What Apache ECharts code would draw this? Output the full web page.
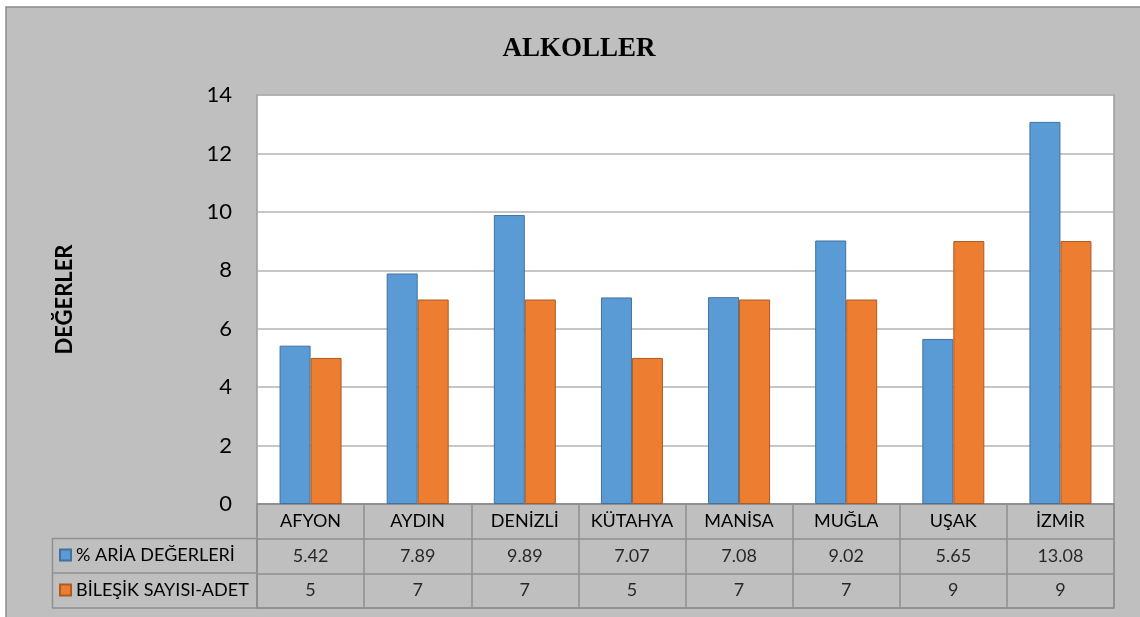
<!DOCTYPE html>
<html>
<head>
<meta charset="utf-8">
<script src="https://cdn.jsdelivr.net/npm/echarts@6/dist/echarts.min.js"></script>
<style>
  html, body { margin: 0; padding: 0; background: #ffffff; }
  #chart { width: 1140px; height: 617px; }
</style>
</head>
<body>
<div id="chart"></div>
<script>
// Provinces and the two measured series
const provinces = ['AFYON', 'AYDIN', 'DENİZLİ', 'KÜTAHYA', 'MANİSA', 'MUĞLA', 'UŞAK', 'İZMİR'];
const ariaValues = [5.42, 7.89, 9.89, 7.07, 7.08, 9.02, 5.65, 13.08];
const compoundCounts = [5, 7, 7, 5, 7, 7, 9, 9];
const seriesNames = ['% ARİA DEĞERLERİ', 'BİLEŞİK SAYISI-ADET'];
const tableRows = ['', 'aria', 'count'];

const FONT = 'Lato, "Open Sans", sans-serif';
const BLUE = '#5B9BD5', ORANGE = '#ED7D31';
const LINE = '#8f8f8f';

// Rows of the data table under the plot: [column, row, value]
const tableCells = [];
ariaValues.forEach((v, i) => tableCells.push([i, 1, v]));
compoundCounts.forEach((v, i) => tableCells.push([i, 2, v]));

const chart = echarts.init(document.getElementById('chart'), null, { renderer: 'canvas' });

chart.setOption({
  backgroundColor: '#ffffff',
  animation: false,
  title: {
    text: 'ALKOLLER',
    left: 574, top: 31, textAlign: 'center',
    textStyle: { fontFamily: '"Liberation Serif", "Times New Roman", serif', fontWeight: 'bold', fontSize: 27, color: '#000' }
  },
  legend: {
    data: seriesNames,
    orient: 'vertical',
    left: 59, top: 546, padding: 0,
    itemWidth: 11, itemHeight: 11, itemGap: 17, itemGap: 17,
    icon: 'rect',
    textStyle: { fontFamily: FONT, fontSize: 18, color: '#000' }
  },
  graphic: [
    { type: 'rect', z: -10, shape: { x: 6, y: 7, width: 1160, height: 640 },
      style: { fill: '#BFBFBF', stroke: '#8a8a8a', lineWidth: 1.5 } },
    { type: 'rect', z: 5, shape: { x: 52.5, y: 538.5, width: 204.5, height: 69.5 },
      style: { fill: 'none', stroke: LINE, lineWidth: 1.5 } },
    { type: 'line', z: 5, shape: { x1: 52.5, y1: 573, x2: 257, y2: 573 },
      style: { stroke: LINE, lineWidth: 1.5 } }
  ],
  grid: [
    { left: 257, right: 26, top: 95, bottom: 113, show: true, backgroundColor: '#ffffff', borderColor: '#9a9a9a', borderWidth: 1.5 },
    { left: 257, right: 26, top: 504, bottom: 9, show: true, backgroundColor: 'transparent', borderColor: LINE, borderWidth: 1.5 }
  ],
  xAxis: [
    {
      type: 'category', gridIndex: 0, data: provinces,
      axisLine: { show: true, lineStyle: { color: LINE, width: 1.5 } },
      axisTick: { show: false },
      axisLabel: { interval: 0, fontFamily: FONT, fontSize: 18, color: '#000', margin: 8 }
    },
    {
      type: 'category', gridIndex: 1, data: provinces,
      axisLine: { show: false }, axisTick: { show: false }, axisLabel: { show: false },
      splitLine: { show: true, interval: 0, lineStyle: { color: LINE, width: 1.5 } }
    }
  ],
  yAxis: [
    {
      type: 'value', gridIndex: 0, min: 0, max: 14, interval: 2,
      name: 'DEĞERLER', nameLocation: 'middle', nameGap: 181, nameRotate: 90,
      nameTextStyle: { fontFamily: FONT, fontWeight: 'bold', fontSize: 22, color: '#000' },
      axisLine: { show: false }, axisTick: { show: false },
      axisLabel: { fontFamily: FONT, fontSize: 22, color: '#000', margin: 25 },
      splitLine: { lineStyle: { color: '#b3b3b3', width: 1.5 } }
    },
    {
      type: 'category', gridIndex: 1, data: tableRows, inverse: true,
      axisLine: { show: false }, axisTick: { show: false }, axisLabel: { show: false },
      splitLine: { show: true, interval: 0, lineStyle: { color: LINE, width: 1.5 } }
    }
  ],
  series: [
    {
      name: seriesNames[0], type: 'bar', xAxisIndex: 0, yAxisIndex: 0,
      data: ariaValues, barWidth: 31, barGap: '0%',
      itemStyle: { color: BLUE, borderColor: '#41719C', borderWidth: 1 }
    },
    {
      name: seriesNames[1], type: 'bar', xAxisIndex: 0, yAxisIndex: 0,
      data: compoundCounts, barWidth: 31, barGap: '0%',
      itemStyle: { color: ORANGE, borderColor: '#AE5A21', borderWidth: 1 }
    },
    {
      name: 'table', type: 'scatter', xAxisIndex: 1, yAxisIndex: 1,
      data: tableCells, symbol: 'rect', symbolSize: 1,
      itemStyle: { color: 'rgba(0,0,0,0)' },
      label: {
        show: true, position: 'inside',
        formatter: p => String(p.value[2]),
        fontFamily: FONT, fontSize: 18, color: '#000'
      },
      silent: true
    }
  ]
});
</script>
</body>
</html>
